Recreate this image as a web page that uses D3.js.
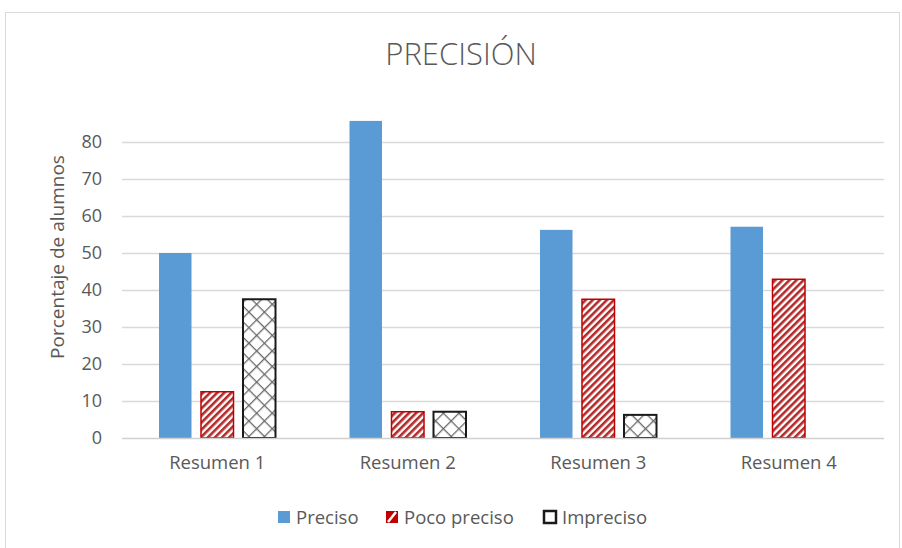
<!DOCTYPE html>
<html>
  <head>
    <meta charset="utf-8">
    <title>Precisión</title>
    <script src="https://cdn.jsdelivr.net/npm/d3@7"></script>
    <style>
      body { margin: 0; background: #fff; }
      text { font-family: "Open Sans", sans-serif; fill: #595959; }
    </style>
  </head>

  <body>
    <svg id="chart" width="902" height="548"></svg>

    <script>
      // data
      const categories = ["Resumen 1", "Resumen 2", "Resumen 3", "Resumen 4"];
      const series = ["Preciso", "Poco preciso", "Impreciso"];
      const preciso = [50, 85.7, 56.25, 57.1];
      const pocoPreciso = [12.5, 7.1, 37.5, 42.9];
      const impreciso = [37.5, 7.1, 6.25, 0];
      const yTicks = [0, 10, 20, 30, 40, 50, 60, 70, 80];

      const values = [preciso, pocoPreciso, impreciso];
      const rows = [];
      categories.forEach(function(c, i) {
        series.forEach(function(s, j) {
          rows.push({ cat: c, series: s, value: values[j][i] });
        });
      });

      const svg = d3.select("#chart");
      const defs = svg.append("defs");

      // hatch patterns
      const stripes = defs.append("pattern")
        .attr("id", "stripes")
        .attr("patternUnits", "userSpaceOnUse")
        .attr("width", 5).attr("height", 5)
        .attr("patternTransform", "rotate(45)");
      stripes.append("rect").attr("width", 5).attr("height", 5).attr("fill", "#fff");
      stripes.append("rect").attr("width", 2.6).attr("height", 5).attr("fill", "#b22a2a");

      const cross = defs.append("pattern")
        .attr("id", "cross")
        .attr("patternUnits", "userSpaceOnUse")
        .attr("width", 11).attr("height", 11)
        .attr("patternTransform", "rotate(45)");
      cross.append("rect").attr("width", 11).attr("height", 11).attr("fill", "#fff");
      cross.append("rect").attr("width", 1.3).attr("height", 11).attr("fill", "#6a6a6a");
      cross.append("rect").attr("width", 11).attr("height", 1.3).attr("fill", "#6a6a6a");

      const fills = { "Preciso": "#5b9bd5", "Poco preciso": "url(#stripes)", "Impreciso": "url(#cross)" };
      const strokes = { "Preciso": "none", "Poco preciso": "#c00000", "Impreciso": "#1a1a1a" };

      // frame
      svg.append("rect")
        .attr("x", 5.5).attr("y", 12.5)
        .attr("width", 894).attr("height", 560)
        .attr("fill", "none")
        .attr("stroke", "#d9d9d9");

      // scales
      const plotLeft = 122, plotRight = 884, plotTop = 142, plotBottom = 438;
      const y = d3.scaleLinear().domain([0, 80]).range([plotBottom, plotTop]);
      const x0 = d3.scaleBand().domain(categories).range([plotLeft, plotRight]).padding(0);
      const x1 = d3.scaleBand().domain(series)
        .range([37, x0.bandwidth() - 37])
        .paddingInner(0.226).paddingOuter(0);

      // gridlines
      svg.append("g")
        .selectAll("line")
          .data(yTicks.slice(1))
        .enter().append("line")
          .attr("x1", plotLeft).attr("x2", plotRight)
          .attr("y1", function(d) { return Math.round(y(d)) + 0.5; })
          .attr("y2", function(d) { return Math.round(y(d)) + 0.5; })
          .attr("stroke", "#d9d9d9")
          .attr("stroke-width", 1.3);

      // y axis labels
      const yAxis = svg.append("g")
        .attr("transform", "translate(" + plotLeft + ",0)")
        .call(d3.axisLeft(y).tickValues(yTicks).tickSize(0).tickPadding(20));
      yAxis.select(".domain").remove();
      yAxis.selectAll("text")
        .style("font-size", "18px")
        .attr("fill", "#595959");

      // bars
      svg.append("g")
        .selectAll("rect")
          .data(rows.filter(function(d) { return d.value > 0; }))
        .enter().append("rect")
          .attr("x", function(d) { return x0(d.cat) + x1(d.series); })
          .attr("y", function(d) { return y(d.value); })
          .attr("width", x1.bandwidth())
          .attr("height", function(d) { return y(0) - y(d.value); })
          .attr("fill", function(d) { return fills[d.series]; })
          .attr("stroke", function(d) { return strokes[d.series]; })
          .attr("stroke-width", function(d) { return d.series == "Impreciso" ? 2 : 1.5; });

      // baseline
      svg.append("line")
        .attr("x1", plotLeft).attr("x2", plotRight)
        .attr("y1", plotBottom + 0.5).attr("y2", plotBottom + 0.5)
        .attr("stroke", "#d0d0d0")
        .attr("stroke-width", 1.5);

      // x axis labels
      const xAxis = svg.append("g")
        .attr("transform", "translate(0," + plotBottom + ")")
        .call(d3.axisBottom(x0).tickSize(0).tickPadding(18));
      xAxis.select(".domain").remove();
      xAxis.selectAll("text")
        .style("font-size", "18.5px")
        .attr("fill", "#595959");

      // titles
      svg.append("text")
        .attr("x", 461).attr("y", 65)
        .attr("text-anchor", "middle")
        .style("font-size", "31px")
        .style("font-weight", 300)
        .text("PRECISIÓN");

      svg.append("text")
        .attr("transform", "translate(64,257) rotate(-90)")
        .attr("text-anchor", "middle")
        .style("font-size", "19px")
        .text("Porcentaje de alumnos");

      // legend
      const legendX = [278, 386, 544];
      const legend = svg.append("g")
        .selectAll("g")
          .data(series)
        .enter().append("g")
          .attr("transform", function(d, i) { return "translate(" + legendX[i] + ",511)"; });
      legend.append("rect")
        .attr("width", 12).attr("height", 12)
        .attr("fill", function(d) { return d == "Poco preciso" ? "#c00000" : d == "Impreciso" ? "#fff" : fills[d]; })
        .attr("stroke", function(d) { return d == "Impreciso" ? "#1a1a1a" : "none"; })
        .attr("stroke-width", 2.5);
      legend.filter(function(d) { return d == "Poco preciso"; })
        .append("line")
          .attr("x1", 2).attr("y1", 11).attr("x2", 10).attr("y2", 1)
          .attr("stroke", "#fff").attr("stroke-width", 2.5);
      legend.append("text")
        .attr("x", 18).attr("y", 13)
        .style("font-size", "18.5px")
        .text(function(d) { return d; });
    </script>
  </body>
</html>
